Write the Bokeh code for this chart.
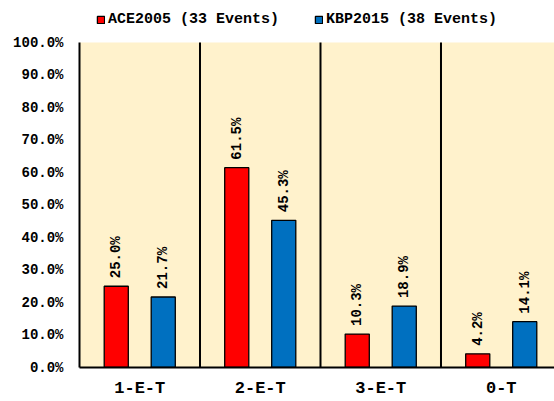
from bokeh.plotting import figure
from bokeh.models import Range1d, FixedTicker, Legend, LegendItem, ColumnDataSource
from bokeh.core.properties import value
from bokeh.embed import file_html
from bokeh.resources import INLINE
from math import pi

categories = ["1-E-T", "2-E-T", "3-E-T", "0-T"]
ace2005 = [25.0, 61.5, 10.3, 4.2]
kbp2015 = [21.7, 45.3, 18.9, 14.1]
series_names = ["ACE2005 (33 Events)", "KBP2015 (38 Events)"]
y_ticks = [0, 10, 20, 30, 40, 50, 60, 70, 80, 90, 100]

FONT = "Liberation Mono"
RED = "#FF0000"
BLUE = "#0070C0"
BG = "#FFF2CC"

FRAME_H = 367          # frame spans canvas top to x-axis
Y_TOP = 100 * FRAME_H / 325.0   # so that 100% lies 42px below the top

p = figure(width=554, height=401, output_backend="svg", toolbar_location=None,
           x_range=Range1d(0, 3.942), y_range=Range1d(0, Y_TOP),
           min_border_left=79, min_border_right=0, min_border_bottom=34, min_border_top=0)
p.background_fill_color = "white"
p.border_fill_color = "white"
p.outline_line_color = None

# plot-area fill (0..100%)
p.quad(left=0, right=4, bottom=0, top=100, fill_color=BG, line_color=None)
# category separators
p.segment(x0=[1, 2, 3], y0=[0, 0, 0], x1=[1, 2, 3], y1=[100, 100, 100],
          line_color="black", line_width=2)

xs = [i + 0.5 for i in range(len(categories))]
off = 0.195
w = 0.2
src_a = ColumnDataSource(dict(x=[x - off for x in xs], top=ace2005,
                              lab=["%.1f%%" % v for v in ace2005]))
src_b = ColumnDataSource(dict(x=[x + off for x in xs], top=kbp2015,
                              lab=["%.1f%%" % v for v in kbp2015]))

ra = p.vbar(x="x", top="top", width=w, source=src_a, fill_color=RED, line_color="black", line_width=1.3)
rb = p.vbar(x="x", top="top", width=w, source=src_b, fill_color=BLUE, line_color="black", line_width=1.3)

for s in (src_a, src_b):
    p.text(x="x", y="top", text="lab", source=s, angle=pi / 2, text_align="left",
           text_baseline="middle", y_offset=-8, text_font=value(FONT), text_font_style="bold",
           text_font_size="14px", text_color="black")

# axes
p.yaxis.bounds = (0, 100)
p.yaxis.ticker = FixedTicker(ticks=y_ticks)
p.yaxis.major_label_overrides = {t: "%.1f%%" % t for t in y_ticks}
p.yaxis.major_tick_line_color = None
p.yaxis.minor_tick_line_color = None
p.yaxis.major_tick_out = 0
p.yaxis.major_label_standoff = 16
p.yaxis.axis_line_color = "black"
p.yaxis.axis_line_width = 2
p.yaxis.major_label_text_font = FONT
p.yaxis.major_label_text_font_style = "bold"
p.yaxis.major_label_text_font_size = "14px"
p.yaxis.major_label_text_color = "black"

p.xaxis.ticker = FixedTicker(ticks=xs)
p.xaxis.major_label_overrides = {x: c for x, c in zip(xs, categories)}
p.xaxis.major_tick_line_color = None
p.xaxis.minor_tick_line_color = None
p.xaxis.major_tick_out = 0
p.xaxis.major_label_standoff = 11
p.xaxis.axis_line_color = "black"
p.xaxis.axis_line_width = 2
p.xaxis.major_label_text_font = FONT
p.xaxis.major_label_text_font_style = "bold"
p.xaxis.major_label_text_font_size = "17px"
p.xaxis.major_label_text_color = "black"

p.xgrid.grid_line_color = None
p.ygrid.grid_line_color = None

legend = Legend(items=[LegendItem(label=series_names[0], renderers=[ra]),
                       LegendItem(label=series_names[1], renderers=[rb])],
                orientation="horizontal", location=(17, FRAME_H - 28),
                label_text_font=FONT, label_text_font_style="bold", label_text_font_size="15px",
                label_text_color="black",
                glyph_width=9, glyph_height=9, label_standoff=3, spacing=35,
                border_line_color=None, background_fill_alpha=0, margin=0, padding=0)
p.add_layout(legend, "center")

open("out.html", "w").write(file_html(p, INLINE))
